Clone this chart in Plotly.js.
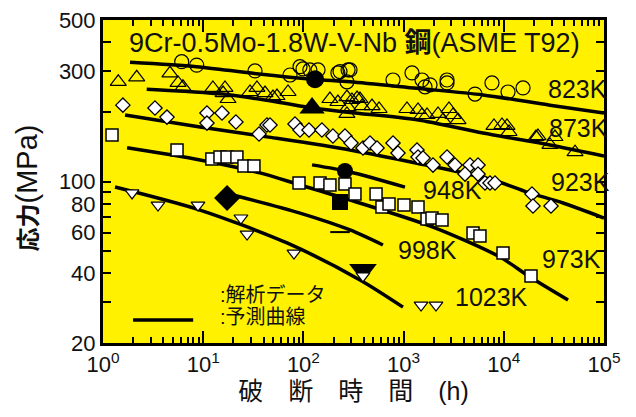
<!DOCTYPE html>
<html><head><meta charset="utf-8">
<script src="https://cdn.plot.ly/plotly-3.0.1.min.js"></script>
<style>body{margin:0;background:#fff}#chart{width:636px;height:417px}</style>
</head><body><div id="chart"></div>
<script>
// ---- prediction curves (hours, MPa) ----
const curve823_h = [1.86, 8.6, 31.4, 125, 292, 1352, 6200, 28900, 100000];
const curve823_s = [328, 314, 294, 277, 270, 253, 237, 214, 198];
const curve873_h = [2.73, 15.8, 54.5, 125, 292, 1361, 6200, 28900, 100000];
const curve873_s = [251, 239, 221, 208, 199, 185, 162, 144, 129];
const curve923_h = [1.66, 9.29, 43.3, 292, 1361, 7800, 17060, 39000, 100000];
const curve923_s = [194, 172, 156, 137, 120, 101.5, 90, 80.7, 69.5];
const curve948_h = [122, 292, 1032];
const curve948_s = [118, 110, 94.6];
const curve973_h = [1.74, 9.29, 36.9, 92.5, 292, 1965, 9160, 18240, 43750];
const curve973_s = [140, 124, 109, 96.6, 83.2, 63.5, 47.1, 38.6, 30.7];
const curve998_h = [19.8, 92.5, 292, 622];
const curve998_s = [87.4, 73.0, 61.7, 53.1];
const curve1023_h = [1.318, 9.29, 68.6, 367, 986];
const curve1023_s = [94.6, 75.2, 54.2, 37.5, 28.6];

// ---- test data ----
const h823 = [6.10, 8.61, 32.9, 73.5, 92.5, 99.1, 116, 140, 232, 279, 272, 221, 292, 784, 1213, 1527, 1636, 1836, 2712, 2712, 5160, 7620, 11020, 15560];
const s823 = [330, 319, 301, 289, 314, 307, 304, 304, 299, 304, 270, 295, 304, 275, 295, 275, 257, 262, 275, 267, 239, 267, 244, 254];
const h873 = [1.42, 2.17, 4.66, 5.61, 6.28, 12.5, 16.5, 15.8, 17.7, 29.3, 34.4, 41.4, 49.7, 54.5, 70.2, 184, 221, 272, 279, 343, 272, 305, 367, 385, 484, 569, 1081, 1393, 1527, 1713, 2205, 2838, 3112, 3491, 2473, 7980, 9590, 10760, 11270, 20950, 21930, 28900, 32430, 51400];
const s873 = [270, 282.5, 294, 267, 257, 254, 254, 241.5, 227.5, 244, 254, 241.5, 232, 234.4, 244, 227.5, 220.8, 232, 210, 229.8, 196, 225.3, 227.5, 212, 212, 206, 206, 204, 194, 194, 196, 206, 194, 184.5, 184.5, 174, 175.6, 174, 163.8, 155.8, 157.3, 144, 155.8, 134];
const h923 = [1.58, 3.30, 4.35, 10.9, 10.9, 15.4, 21.2, 43.3, 46.4, 36.1, 82.4, 92.5, 113.7, 153, 197, 260, 299, 393, 462, 543, 784, 879, 1361, 1393, 1563, 1965, 2712, 3258, 4600, 5530, 4100, 5530, 6490, 7280, 8170, 19100, 19550, 29580];
const s923 = [214, 208, 190, 198, 179, 198, 181, 175.6, 175.6, 160.6, 177.4, 167, 167, 167, 157.3, 157.3, 146.7, 139.6, 146.7, 139.6, 146.7, 132.8, 136.8, 127.6, 126.4, 117.8, 127.6, 117.8, 117.8, 117.8, 107.7, 107.7, 98.5, 98.5, 98.5, 88.3, 78.3, 78.3];
const h973 = [1.23, 5.48, 12.2, 14.7, 17.3, 21.7, 25.5, 32.1, 90.4, 146.5, 184, 260, 327, 531, 608, 715, 1009, 1393, 1713, 1920, 2417, 4930, 5780, 9820, 18680];
const s973 = [159, 136.8, 125.1, 127.6, 127.6, 127.6, 116.7, 116.7, 98.5, 98.5, 96.5, 97.5, 88.3, 88.3, 77.5, 79.9, 79.1, 77.5, 68.8, 69.5, 68.1, 59.8, 58.1, 49.0, 39.0];
const h1023 = [1.95, 3.54, 8.87, 23.8, 27.4, 80.5, 393, 1493, 2104];
const s1023 = [89.2, 79.1, 79.1, 69.5, 59.2, 49.0, 39.0, 29.2, 29.2];

// ---- analysis data (filled) ----
const hA823 = [130.6], sA823 = [277];
const hA873 = [122],   sA873 = [208];
const hA948 = [260],   sA948 = [111];
const hA973 = [232],   sA973 = [81.5];
const hA998 = [17.3],  sA998 = [84.8];
const hA1023 = [393],  sA1023 = [41.4];
const hDash = [232],   sDash = [60.4];

// ---- ticks & labels ----
const xTickVals = [1, 10, 100, 1000, 10000, 100000];
const xTickText = ['10<sup>0</sup>', '10<sup>1</sup>', '10<sup>2</sup>', '10<sup>3</sup>', '10<sup>4</sup>', '10<sup>5</sup>'];
const xMinorVals = [];
[1, 10, 100, 1000, 10000].forEach(d => { for (let k = 2; k <= 9; k++) xMinorVals.push(d * k); });
const yTickVals = [20, 40, 60, 80, 100, 300, 500];
const yTickText = ['20', '40', '60', '80', '100', '300', '500'];
const yMinorVals = [30, 50, 70, 90, 200, 400];
const tempLabels = ['823K', '873K', '923K', '948K', '998K', '973K', '1023K'];
const xTitle = '破　断　時　間　(h)';
const yTitle = '<b>応力</b><span style="font-size:29px">(MPa)</span>';

const FONT = 'Liberation Sans, Arial, Noto Sans CJK JP, sans-serif';
const lineStyle = {color: '#000', width: 3.5, shape: 'spline', smoothing: 0.8};
function curve(h, s) { return {x: h, y: s, mode: 'lines', line: lineStyle, hoverinfo: 'skip'}; }
function pts(h, s, symbol, size, fill, lw) {
  return {x: h, y: s, mode: 'markers', marker: {symbol: symbol, size: size, color: fill, line: {color: '#000', width: lw}}};
}

const traces = [
  curve(curve823_h, curve823_s), curve(curve873_h, curve873_s), curve(curve923_h, curve923_s),
  curve(curve948_h, curve948_s), curve(curve973_h, curve973_s), curve(curve998_h, curve998_s),
  curve(curve1023_h, curve1023_s),
  pts(hA823, sA823, 'circle', 18, '#000', 0),
  pts(hA873, sA873, 'triangle-up', 22, '#000', 0),
  pts(hA948, sA948, 'circle', 16, '#000', 0),
  pts(hA973, sA973, 'square', 16, '#000', 0),
  pts(hA998, sA998, 'diamond', 20, '#000', 0),
  pts(hA1023, sA1023, 'triangle-down', 24, '#000', 0),
  {x: hDash, y: sDash, mode: 'markers', marker: {symbol: 'line-ew', size: 14, line: {color: '#000', width: 2}}},
  pts(h823, s823, 'circle-open', 14, '#000', 1.2),
  pts(h873, s873, 'triangle-up-open', 14, '#000', 1.2),
  pts(h923, s923, 'diamond', 11, '#fff', 1.3),
  pts(h973, s973, 'square', 12, '#fff', 1.5),
  pts(h1023, s1023, 'triangle-down', 12, '#fff', 1.2)
];

function ann(text, x, y, size, anchor) {
  return {text: text, xref: 'paper', yref: 'paper', x: x, y: y, xanchor: anchor || 'left', yanchor: 'middle',
          showarrow: false, font: {family: FONT, size: size, color: '#111'}};
}
const yTitleAnn = ann(yTitle, -0.152, 0.481, 24, 'center');
yTitleAnn.textangle = -90;
const annotations = [
  ann('9Cr-0.5Mo-1.8W-V-Nb <b>鋼</b>(ASME T92)', 0.047, 0.929, 27),
  ann(tempLabels[0], 0.884, 0.786, 25),
  ann(tempLabels[1], 0.886, 0.667, 25),
  ann(tempLabels[2], 0.890, 0.497, 25),
  ann(tempLabels[3], 0.635, 0.474, 25),
  ann(tempLabels[4], 0.585, 0.289, 25),
  ann(tempLabels[5], 0.872, 0.260, 25),
  ann(tempLabels[6], 0.699, 0.141, 25),
  ann(':解析データ', 0.229, 0.149, 20),
  ann(':予測曲線', 0.229, 0.079, 20),
  yTitleAnn
];

const layout = {
  width: 636, height: 417,
  margin: {l: 103, r: 32, t: 20, b: 74},
  paper_bgcolor: '#fff', plot_bgcolor: '#FFF100',
  showlegend: false,
  font: {family: FONT, color: '#111'},
  xaxis: {
    type: 'log', range: [0, 5], tickmode: 'array', tickvals: xTickVals, ticktext: xTickText,
    ticks: 'inside', ticklen: 12, tickwidth: 2, tickcolor: '#000',
    minor: {tickvals: xMinorVals, ticks: 'inside', ticklen: 6, tickwidth: 2, tickcolor: '#000'},
    showline: true, linewidth: 3, linecolor: '#000', mirror: 'ticks', showgrid: false, zeroline: false,
    tickfont: {family: FONT, size: 22, color: '#111'},
    title: {text: xTitle, font: {family: FONT, size: 25, color: '#111'}, standoff: 4}
  },
  yaxis: {
    type: 'log', range: [Math.log10(20), Math.log10(500)], tickmode: 'array', tickvals: yTickVals, ticktext: yTickText,
    ticks: 'inside', ticklen: 8, tickwidth: 2, tickcolor: '#000',
    minor: {tickvals: yMinorVals, ticks: 'inside', ticklen: 8, tickwidth: 2, tickcolor: '#000'},
    showline: true, linewidth: 3, linecolor: '#000', mirror: 'ticks', showgrid: false, zeroline: false,
    tickfont: {family: FONT, size: 22, color: '#111'}
  },
  annotations: annotations,
  shapes: [{type: 'line', xref: 'paper', yref: 'paper', x0: 0.06, x1: 0.18, y0: 0.071, y1: 0.071,
            line: {color: '#000', width: 3.5}}]
};

Plotly.newPlot('chart', traces, layout, {staticPlot: true});
</script></body></html>
